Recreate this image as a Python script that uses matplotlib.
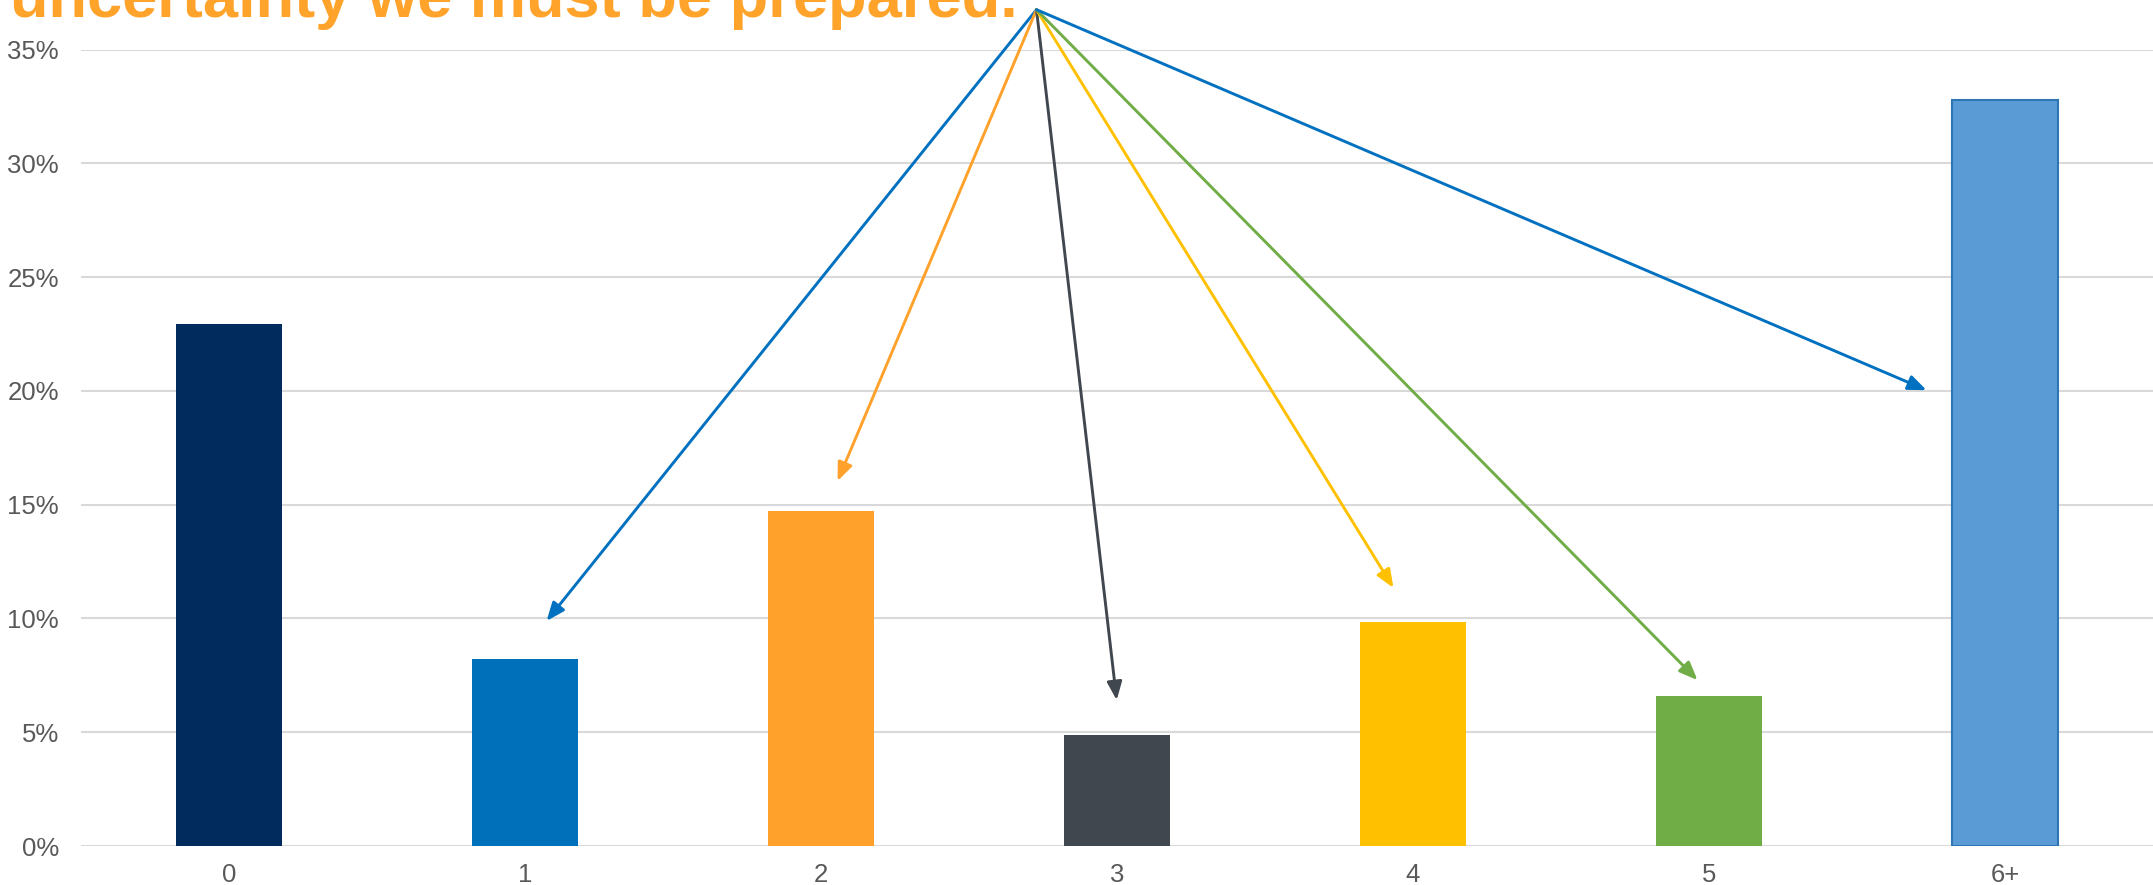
import matplotlib
matplotlib.use("Agg")
import matplotlib.pyplot as plt
from matplotlib.ticker import FuncFormatter

categories = ["0", "1", "2", "3", "4", "5", "6+"]
values = [22.95, 8.2, 14.72, 4.89, 9.84, 6.58, 32.78]
bar_colors = ["#002B5C", "#0070BA", "#FFA12B", "#41474F", "#FFC000", "#70AD47", "#5B9BD5"]
yticks = [0, 5, 10, 15, 20, 25, 30, 35]

# arrows: common origin, end points (category units, percent)
arrow_origin = (2.728, 36.75)
arrow_ends_x = [1.073, 2.056, 2.999, 3.934, 4.961, 5.735]
arrow_ends_y = [9.89, 16.04, 6.41, 11.34, 7.29, 20.03]
arrow_colors = ["#0070C0", "#FFA12B", "#41474F", "#FFC000", "#70AD47", "#0070C0"]

title = "uncertainty we must be prepared."

plt.rcParams['font.family'] = ['Liberation Sans', 'DejaVu Sans']

fig = plt.figure(figsize=(21.53, 8.85), dpi=100)
ax = fig.add_axes([81/2153, 1-846/885, 1-81/2153, (846-49.5)/885])

x = list(range(len(categories)))
edges = ["none"] * (len(categories) - 1) + ["#2E75B6"]
ax.bar(x, values, width=0.355, color=bar_colors, edgecolor=edges, linewidth=1.5, zorder=3)

ax.set_xlim(-0.5, len(categories) - 0.5)
ax.set_ylim(0, 35)
ax.set_yticks(yticks)
ax.yaxis.set_major_formatter(FuncFormatter(lambda v, p: f"{v:.0f}%"))
ax.set_xticks(x)
ax.set_xticklabels(categories)
ax.grid(axis='y', color='#D9D9D9', linewidth=1.5, zorder=0)
ax.set_axisbelow(True)
for s in ax.spines.values():
    s.set_visible(False)
ax.tick_params(axis='both', length=0, labelsize=18.5, colors='#595959')
ax.tick_params(axis='y', pad=16)
ax.tick_params(axis='x', pad=12)

for ex, ey, c in zip(arrow_ends_x, arrow_ends_y, arrow_colors):
    ax.annotate("", xy=(ex, ey), xytext=arrow_origin, xycoords='data', textcoords='data',
                annotation_clip=False,
                arrowprops=dict(arrowstyle="-|>,head_length=1.1,head_width=0.45",
                                color=c, lw=2.1, shrinkA=0, shrinkB=0),
                zorder=5)

fig.text(10/2153, 1-16.5/885, title, color='#FFA32A', fontsize=45.5, fontweight='bold',
         ha='left', va='baseline')

fig.savefig("out.png", dpi=100)
